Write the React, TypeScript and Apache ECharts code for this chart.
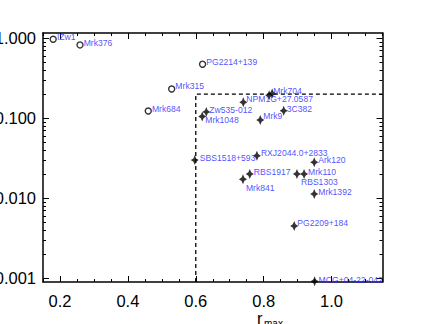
import React, { useEffect, useRef } from "react";
import * as echarts from "echarts";

// ---- data ----
const openNames = ["IZw1", "Mrk376", "PG2214+139", "Mrk315", "Mrk684"];
const openX = [0.18, 0.259, 0.62, 0.529, 0.46];
const openY = [0.97, 0.824, 0.473, 0.232, 0.123];

const starNames = [
  "Zw535-012", "Mrk1048", "NPM1G+27.0587", "", "Mrk704", "3C382", "Mrk9",
  "SBS1518+593", "RXJ2044.0+2833", "Ark120", "RBS1917", "Mrk841", "Mrk110",
  "RBS1303", "Mrk1392", "PG2209+184", "MCG+04-22-042",
];
const starX = [
  0.631, 0.619, 0.74, 0.816, 0.825, 0.859, 0.79,
  0.597, 0.78, 0.949, 0.759, 0.739, 0.919,
  0.898, 0.949, 0.89, 0.95,
];
const starY = [
  0.12, 0.105, 0.158, 0.193, 0.204, 0.124, 0.095,
  0.03, 0.034, 0.0282, 0.0201, 0.0173, 0.0201,
  0.0201, 0.0113, 0.00451, 0.00092,
];

const cutR = 0.6;
const cutF = 0.2;

const xMin = 0.15;
const xMax = 1.15;
const yMin = 0.0009;
const yMax = 1.16;

const xMajorTicks = [0.2, 0.4, 0.6, 0.8, 1.0];
const xMinorTicks = [0.15, 0.25, 0.3, 0.35, 0.45, 0.5, 0.55, 0.65, 0.7, 0.75, 0.85, 0.9, 0.95, 1.05, 1.1, 1.15];
const yMajorTicks = [0.001, 0.01, 0.1, 1];
const yMinorTicks = [
  0.002, 0.003, 0.004, 0.005, 0.006, 0.007, 0.008, 0.009,
  0.02, 0.03, 0.04, 0.05, 0.06, 0.07, 0.08, 0.09,
  0.2, 0.3, 0.4, 0.5, 0.6, 0.7, 0.8, 0.9,
];

// ---- label placement (style) ----
const labelOffsets: Record<string, [number, number]> = {
  "IZw1": [0, -2],
  "Mrk376": [0, -2],
  "PG2214+139": [0, -2],
  "Mrk315": [0, -3],
  "Mrk684": [0, -2],
  "Zw535-012": [-1, -2],
  "Mrk1048": [-1, 3],
  "NPM1G+27.0587": [-1, -3],
  "Mrk704": [-3, -2],
  "3C382": [-1, -2],
  "Mrk9": [-1, -4],
  "SBS1518+593": [1, -2],
  "RXJ2044.0+2833": [0, -3],
  "Ark120": [0, -2],
  "RBS1917": [0, -2],
  "Mrk841": [-1, 9],
  "Mrk110": [0, -2],
  "RBS1303": [0, 8],
  "Mrk1392": [0, -2],
  "PG2209+184": [-1, -3],
  "MCG+04-22-042": [0, -1],
};

const FONT = "Liberation Sans, Arial, Helvetica, sans-serif";
const LABEL_COLOR = "#2323ff";
const STAR = "path://M0,-10 L3.4,-3.4 L10,0 L3.4,3.4 L0,10 L-3.4,3.4 L-10,0 L-3.4,-3.4 Z";

function makeLabel(name: string) {
  const off = labelOffsets[name] || [0, -2];
  return {
    show: name !== "",
    position: "right",
    distance: 0,
    offset: off,
    formatter: name,
    color: LABEL_COLOR,
    fontSize: 8.6,
    fontFamily: FONT,
  };
}

export default function App() {
  const ref = useRef<HTMLDivElement>(null);

  useEffect(() => {
    document.body.style.margin = "0";
    const chart = echarts.init(ref.current!, null, { renderer: "svg" });

    const axisLine = { show: true, onZero: false, lineStyle: { color: "#000", width: 1.5 } };
    const noLine = { show: false, onZero: false };
    const tickStyle = { color: "#000", width: 1 };

    const xAxisBase = {
      type: "value",
      min: xMin,
      max: xMax,
      splitLine: { show: false },
      gridIndex: 0,
    };
    const yAxisBase = {
      type: "log",
      logBase: 10,
      min: yMin,
      max: yMax,
      splitLine: { show: false },
      gridIndex: 0,
    };

    const option: any = {
      animation: false,
      backgroundColor: "#fff",
      grid: {
        left: 43,
        right: 42.5,
        top: 33,
        bottom: 42,
        containLabel: false,
        outerBoundsMode: "none",
      },
      xAxis: [
        {
          ...xAxisBase,
          position: "bottom",
          axisLine,
          axisTick: { show: true, inside: true, length: 6, customValues: xMajorTicks, lineStyle: tickStyle },
          axisLabel: {
            show: true,
            customValues: xMajorTicks,
            formatter: (v: number) => v.toFixed(1),
            fontSize: 16.5,
            fontFamily: FONT,
            color: "#000",
            margin: 10,
          },
        },
        {
          ...xAxisBase,
          position: "bottom",
          axisLine: noLine,
          axisTick: { show: true, inside: true, length: 3, customValues: xMinorTicks, lineStyle: tickStyle },
          axisLabel: { show: false },
        },
        {
          ...xAxisBase,
          position: "top",
          axisLine,
          axisTick: { show: true, inside: true, length: 6, customValues: xMajorTicks, lineStyle: tickStyle },
          axisLabel: { show: false },
        },
        {
          ...xAxisBase,
          position: "top",
          axisLine: noLine,
          axisTick: { show: true, inside: true, length: 3, customValues: xMinorTicks, lineStyle: tickStyle },
          axisLabel: { show: false },
        },
      ],
      yAxis: [
        {
          ...yAxisBase,
          position: "left",
          axisLine,
          axisTick: { show: true, inside: true, length: 6, customValues: yMajorTicks, lineStyle: tickStyle },
          axisLabel: {
            show: true,
            customValues: yMajorTicks,
            formatter: (v: number) => v.toFixed(3),
            fontSize: 16.5,
            fontFamily: FONT,
            color: "#000",
            margin: 7,
          },
        },
        {
          ...yAxisBase,
          position: "left",
          axisLine: noLine,
          axisTick: { show: true, inside: true, length: 3, customValues: yMinorTicks, lineStyle: tickStyle },
          axisLabel: { show: false },
        },
        {
          ...yAxisBase,
          position: "right",
          axisLine,
          axisTick: { show: true, inside: true, length: 6, customValues: yMajorTicks, lineStyle: tickStyle },
          axisLabel: { show: false },
        },
        {
          ...yAxisBase,
          position: "right",
          axisLine: noLine,
          axisTick: { show: true, inside: true, length: 3, customValues: yMinorTicks, lineStyle: tickStyle },
          axisLabel: { show: false },
        },
      ],
      series: [
        {
          type: "line",
          xAxisIndex: 0,
          yAxisIndex: 0,
          data: [[cutR, yMin], [cutR, cutF], [xMax, cutF]],
          symbol: "none",
          silent: true,
          lineStyle: { color: "#000", width: 1.3, type: [4, 3] },
          z: 1,
        },
        {
          type: "scatter",
          xAxisIndex: 0,
          yAxisIndex: 0,
          symbol: "circle",
          symbolSize: 6,
          itemStyle: { color: "#fff", borderColor: "#000", borderWidth: 1.4 },
          data: openNames.map((n, i) => ({ value: [openX[i], openY[i]], label: makeLabel(n) })),
          z: 3,
        },
        {
          type: "scatter",
          xAxisIndex: 0,
          yAxisIndex: 0,
          symbol: STAR,
          symbolSize: [8, 10],
          itemStyle: { color: "#000" },
          data: starNames.map((n, i) => ({ value: [starX[i], starY[i]], label: makeLabel(n) })),
          z: 3,
        },
      ],
      graphic: [
        {
          type: "text",
          left: 257,
          top: 309,
          style: { text: "r", fontSize: 16.5, fontFamily: FONT, fill: "#000" },
        },
        {
          type: "text",
          left: 264,
          top: 318,
          style: { text: "max", fontSize: 10, fontFamily: FONT, fill: "#000" },
        },
      ],
    };

    chart.setOption(option);
    return () => chart.dispose();
  }, []);

  return (
    <div
      ref={ref}
      style={{ position: "absolute", left: 0, top: 0, width: 425, height: 324 }}
    />
  );
}
